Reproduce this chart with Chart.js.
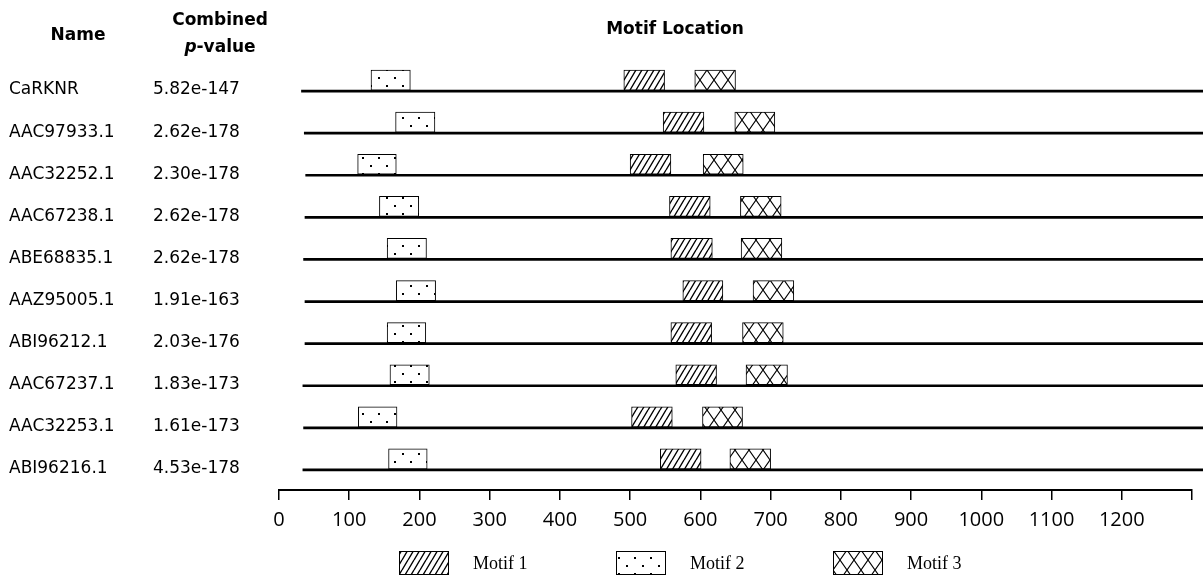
<!DOCTYPE html>
<html>
<head>
<meta charset="utf-8">
<script src="https://cdn.jsdelivr.net/npm/chart.js@4"></script>
<style>
  body { margin: 0; background: #fff; }
</style>
</head>
<body>
<canvas id="chart" width="1203" height="576"></canvas>
<script>
const names = ["CaRKNR", "AAC97933.1", "AAC32252.1", "AAC67238.1", "ABE68835.1",
    "AAZ95005.1", "ABI96212.1", "AAC67237.1", "AAC32253.1", "ABI96216.1"];
const pValues = ["5.82e-147", "2.62e-178", "2.30e-178", "2.62e-178", "2.62e-178",
    "1.91e-163", "2.03e-176", "1.83e-173", "1.61e-173", "4.53e-178"];
const seqStart = [32, 36, 38, 37, 35, 37, 37, 34, 35, 34];
const seqEnd = 1320;
const motif1 = [[491, 549], [547, 605], [500, 558], [556, 614], [558, 617],
    [575, 632], [558, 616], [565, 623], [502, 560], [543, 601]];
const motif2 = [[131, 187], [166, 222], [112, 167], [143, 199], [154, 210],
    [167, 223], [154, 209], [158, 214], [113, 168], [156, 211]];
const motif3 = [[592, 650], [649, 706], [604, 661], [657, 715], [658, 716],
    [675, 733], [660, 718], [665, 724], [603, 660], [642, 700]];
const xTicks = [0, 100, 200, 300, 400, 500, 600, 700, 800, 900, 1000, 1100, 1200];

const ctx = document.getElementById("chart").getContext("2d");

function makePattern(w, h, draw) {
    const c = document.createElement("canvas");
    c.width = w;
    c.height = h;
    const p = c.getContext("2d");
    p.fillStyle = "#fff";
    p.fillRect(0, 0, w, h);
    draw(p);
    return ctx.createPattern(c, "repeat");
}

const hatch = makePattern(6, 10, (p) => {
    p.strokeStyle = "#000";
    p.lineWidth = 1.4;
    p.beginPath();
    [-6, 0, 6].forEach((dx) => {
        p.moveTo(dx, 10);
        p.lineTo(dx + 6, 0);
    });
    p.stroke();
});
const dots = makePattern(16, 16, (p) => {
    p.fillStyle = "#000";
    p.fillRect(2, 5, 2, 2);
    p.fillRect(10, 13, 2, 2);
});
const cross = makePattern(14, 20, (p) => {
    p.strokeStyle = "#000";
    p.lineWidth = 1.1;
    p.beginPath();
    p.moveTo(0, 0); p.lineTo(14, 20);
    p.moveTo(14, 0); p.lineTo(0, 20);
    p.stroke();
});

const motifBar = {
    stack: "m",
    barThickness: 20,
    borderColor: "#000",
    borderWidth: 1,
    borderSkipped: false,
};

// header texts and bottom legend are drawn here
const decorations = {
    id: "decorations",
    afterDraw(chart) {
        const c = chart.ctx;
        c.save();
        c.fillStyle = "#000";
        c.textAlign = "center";
        c.textBaseline = "alphabetic";
        c.font = "bold 17px 'DejaVu Sans'";
        c.fillText("Name", 78, 40);
        c.fillText("Combined", 220, 25);
        c.fillText("Motif Location", 675, 34);
        // p-value with italic p
        c.font = "italic bold 17px 'DejaVu Sans'";
        const pw = c.measureText("p").width;
        c.font = "bold 17px 'DejaVu Sans'";
        const rw = c.measureText("-value").width;
        const left = 220 - (pw + rw) / 2;
        c.textAlign = "left";
        c.font = "italic bold 17px 'DejaVu Sans'";
        c.fillText("p", left, 52);
        c.font = "bold 17px 'DejaVu Sans'";
        c.fillText("-value", left + pw, 52);

        // legend
        c.font = "18px 'Liberation Serif'";
        c.textBaseline = "middle";
        chart.data.datasets.slice(0, 3).forEach((ds, i) => {
            const bx = 399 + i * 217;
            c.fillStyle = ds.backgroundColor;
            c.fillRect(bx, 551, 49, 23);
            c.strokeStyle = "#000";
            c.lineWidth = 1;
            c.strokeRect(bx + 0.5, 551.5, 49, 23);
            c.fillStyle = "#000";
            c.fillText(ds.label, bx + 74, 564);
        });
        c.restore();
    },
};

new Chart(ctx, {
    type: "bar",
    data: {
        labels: names,
        datasets: [
            { ...motifBar, label: "Motif 1", data: motif1, backgroundColor: hatch },
            { ...motifBar, label: "Motif 2", data: motif2, backgroundColor: dots },
            { ...motifBar, label: "Motif 3", data: motif3, backgroundColor: cross },
            {
                label: "Sequence",
                stack: "s",
                data: seqStart.map((s) => [s, seqEnd]),
                backgroundColor: "#000",
                barThickness: 2,
                borderWidth: 0,
                clip: false,
            },
        ],
    },
    options: {
        indexAxis: "y",
        responsive: false,
        animation: false,
        layout: { padding: { top: 69, left: 9, right: 11, bottom: 44 } },
        plugins: {
            legend: { display: false },
            tooltip: { enabled: false },
        },
        scales: {
            x: {
                type: "linear",
                stacked: false,
                min: 0,
                max: 1300,
                afterBuildTicks: (scale) => {
                    scale.ticks = xTicks.concat([1300]).map((v) => ({ value: v }));
                },
                ticks: {
                    autoSkip: false,
                    maxRotation: 0,
                    padding: 8,
                    color: "#000",
                    font: { family: "'Open Sans'", size: 20 },
                    callback: (v) => (xTicks.includes(v) ? String(v) : ""),
                },
                grid: {
                    drawOnChartArea: false,
                    drawTicks: true,
                    tickLength: 10,
                    color: "#000",
                    lineWidth: 1.5,
                },
                border: { display: true, color: "#000", width: 2 },
                afterFit: (scale) => { scale.height = 42; },
            },
            y: {
                type: "category",
                position: "left",
                weight: 2,
                offset: true,
                grid: { display: false },
                border: { display: false },
                ticks: {
                    crossAlign: "far",
                    padding: 0,
                    color: "#000",
                    font: { family: "'DejaVu Sans'", size: 17 },
                },
                afterFit: (scale) => { scale.width = 144; },
            },
            yP: {
                type: "category",
                position: "left",
                weight: 1,
                offset: true,
                labels: pValues,
                grid: { display: false },
                border: { display: false },
                ticks: {
                    crossAlign: "far",
                    padding: 0,
                    color: "#000",
                    font: { family: "'DejaVu Sans'", size: 17 },
                },
                afterFit: (scale) => { scale.width = 126; },
            },
        },
    },
    plugins: [decorations],
});
</script>
</body>
</html>
